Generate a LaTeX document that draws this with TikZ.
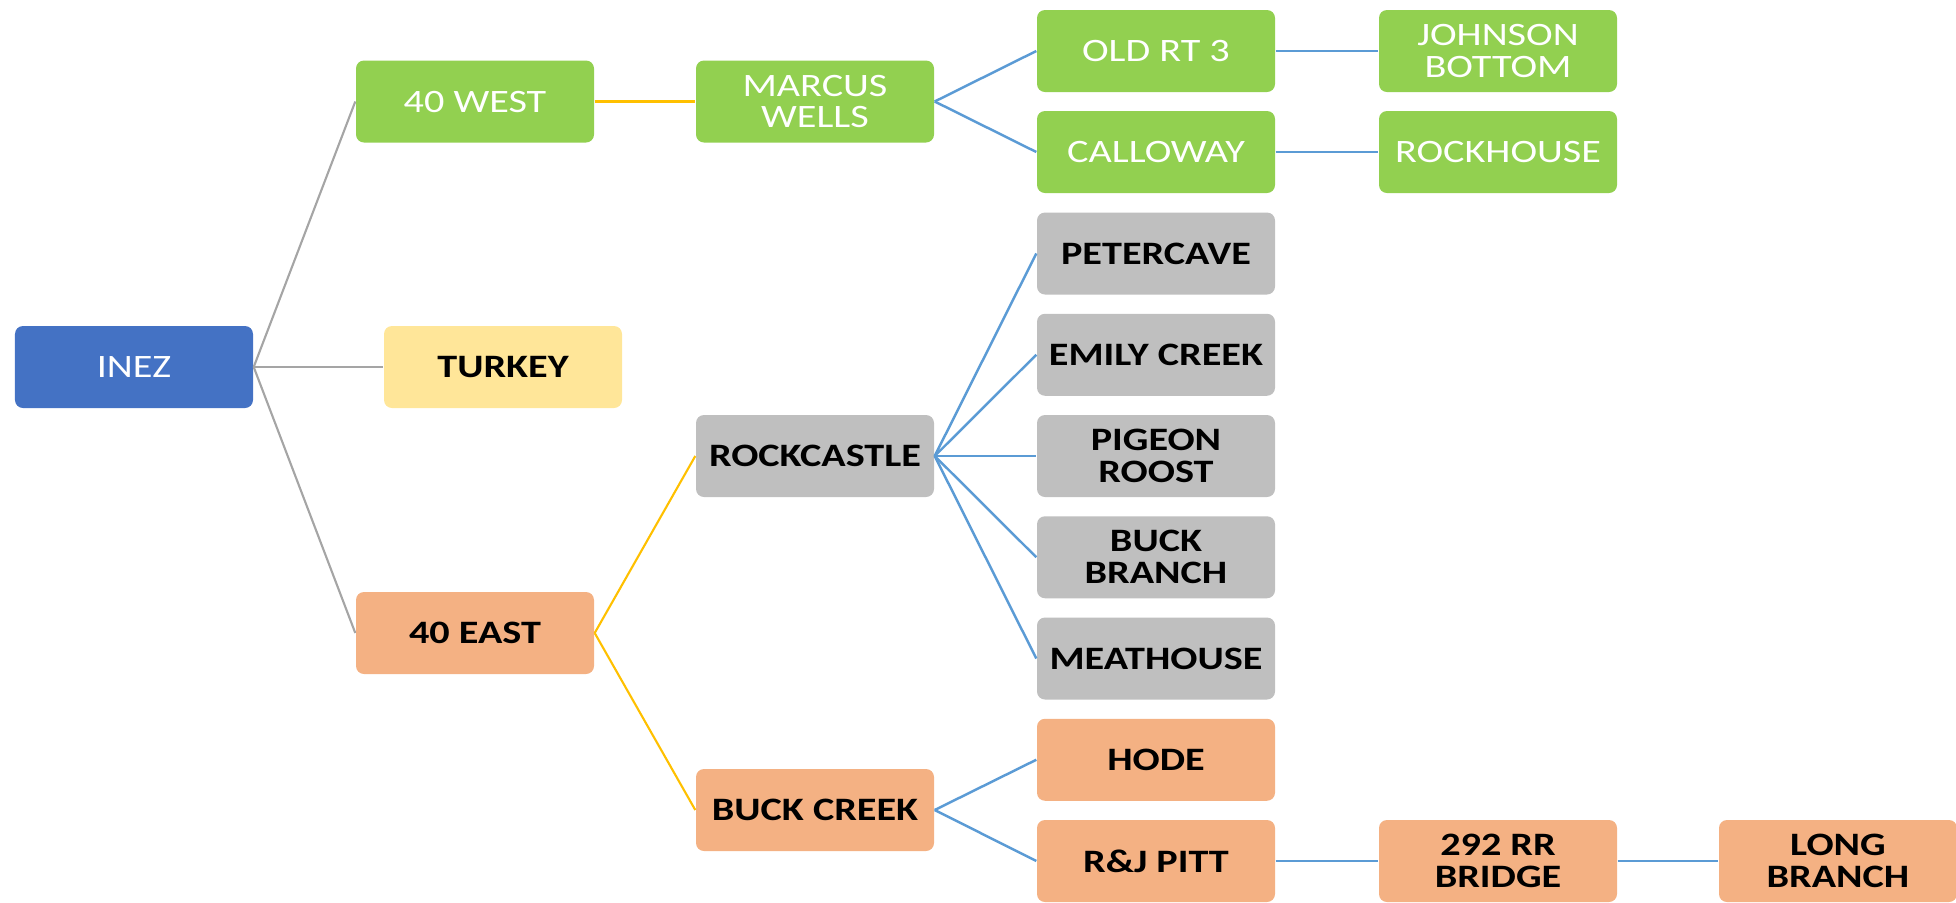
\documentclass[tikz,border=0pt]{standalone}
\usepackage{fontspec}
\setmainfont{Carlito}[FakeStretch=1.23]
\usepackage{tikz}

\definecolor{boxblue}{HTML}{4472C4}
\definecolor{boxgreen}{HTML}{92D050}
\definecolor{boxyellow}{HTML}{FFE699}
\definecolor{boxorange}{HTML}{F4B183}
\definecolor{boxgrey}{HTML}{BFBFBF}
\definecolor{linegrey}{HTML}{A5A5A5}
\definecolor{lineyellow}{HTML}{FFC000}
\definecolor{lineblue}{HTML}{5B9BD5}

\tikzset{
    place/.style={rectangle, rounded corners=0.8mm, minimum width=2.38cm, minimum height=0.82cm,
        inner sep=1pt, align=center, font=\fontsize{9.3}{9.1}\selectfont},
    lightplace/.style={place, text=white},
    darkplace/.style={place, text=black, font=\fontsize{9.3}{9.1}\selectfont\bfseries},
    greyline/.style={draw=linegrey, line width=0.6pt},
    yellowline/.style={draw=lineyellow, line width=0.6pt},
    blueline/.style={draw=lineblue, line width=0.7pt}
}

\begin{document}
\begin{tikzpicture}
            \useasboundingbox (0,0) rectangle (19.56,-9.03);
            \clip (0,0) rectangle (19.56,-9.03);

            % root and first level
            \node[lightplace, fill=boxblue] (inez) at (1.34,-3.67) {INEZ};
            \node[lightplace, fill=boxgreen] (west) at (4.75,-1.015) {40 WEST};
            \node[darkplace, fill=boxyellow] (turkey) at (5.03,-3.67) {TURKEY};
            \node[darkplace, fill=boxorange] (east) at (4.75,-6.33) {40 EAST};

            % second level
            \node[lightplace, fill=boxgreen] (marcus) at (8.15,-1.015) {MARCUS\\WELLS};
            \node[darkplace, fill=boxgrey] (rockcastle) at (8.15,-4.56) {ROCKCASTLE};
            \node[darkplace, fill=boxorange] (buckcreek) at (8.15,-8.10) {BUCK CREEK};

            % third level
            \node[lightplace, fill=boxgreen] (oldrt) at (11.56,-0.51) {OLD RT 3};
            \node[lightplace, fill=boxgreen] (calloway) at (11.56,-1.52) {CALLOWAY};
            \node[darkplace, fill=boxgrey] (petercave) at (11.56,-2.535) {PETERCAVE};
            \node[darkplace, fill=boxgrey] (emily) at (11.56,-3.5475) {EMILY CREEK};
            \node[darkplace, fill=boxgrey] (pigeon) at (11.56,-4.56) {PIGEON\\ROOST};
            \node[darkplace, fill=boxgrey] (buckbranch) at (11.56,-5.5725) {BUCK\\BRANCH};
            \node[darkplace, fill=boxgrey] (meathouse) at (11.56,-6.585) {MEATHOUSE};
            \node[darkplace, fill=boxorange] (hode) at (11.56,-7.5975) {HODE};
            \node[darkplace, fill=boxorange] (pitt) at (11.56,-8.61) {R\&J PITT};

            % fourth and fifth level
            \node[lightplace, fill=boxgreen] (johnson) at (14.98,-0.51) {JOHNSON\\BOTTOM};
            \node[lightplace, fill=boxgreen] (rockhouse) at (14.98,-1.52) {ROCKHOUSE};
            \node[darkplace, fill=boxorange] (bridge) at (14.98,-8.61) {292 RR\\BRIDGE};
            \node[darkplace, fill=boxorange] (longbranch) at (18.38,-8.61) {LONG\\BRANCH};

            % connectors
            \draw[greyline] (inez.east) -- (west.west);
            \draw[greyline] (inez.east) -- (turkey.west);
            \draw[greyline] (inez.east) -- (east.west);

            \draw[yellowline] (west.east) -- (marcus.west);
            \draw[yellowline] (east.east) -- (rockcastle.west);
            \draw[yellowline] (east.east) -- (buckcreek.west);

            \draw[blueline] (marcus.east) -- (oldrt.west);
            \draw[blueline] (marcus.east) -- (calloway.west);
            \foreach \kid in {petercave, emily, pigeon, buckbranch, meathouse}
                \draw[blueline] (rockcastle.east) -- (\kid.west);
            \draw[blueline] (buckcreek.east) -- (hode.west);
            \draw[blueline] (buckcreek.east) -- (pitt.west);

            \draw[blueline] (oldrt.east) -- (johnson.west);
            \draw[blueline] (calloway.east) -- (rockhouse.west);
            \draw[blueline] (pitt.east) -- (bridge.west);
            \draw[blueline] (bridge.east) -- (longbranch.west);
\end{tikzpicture}
\end{document}
